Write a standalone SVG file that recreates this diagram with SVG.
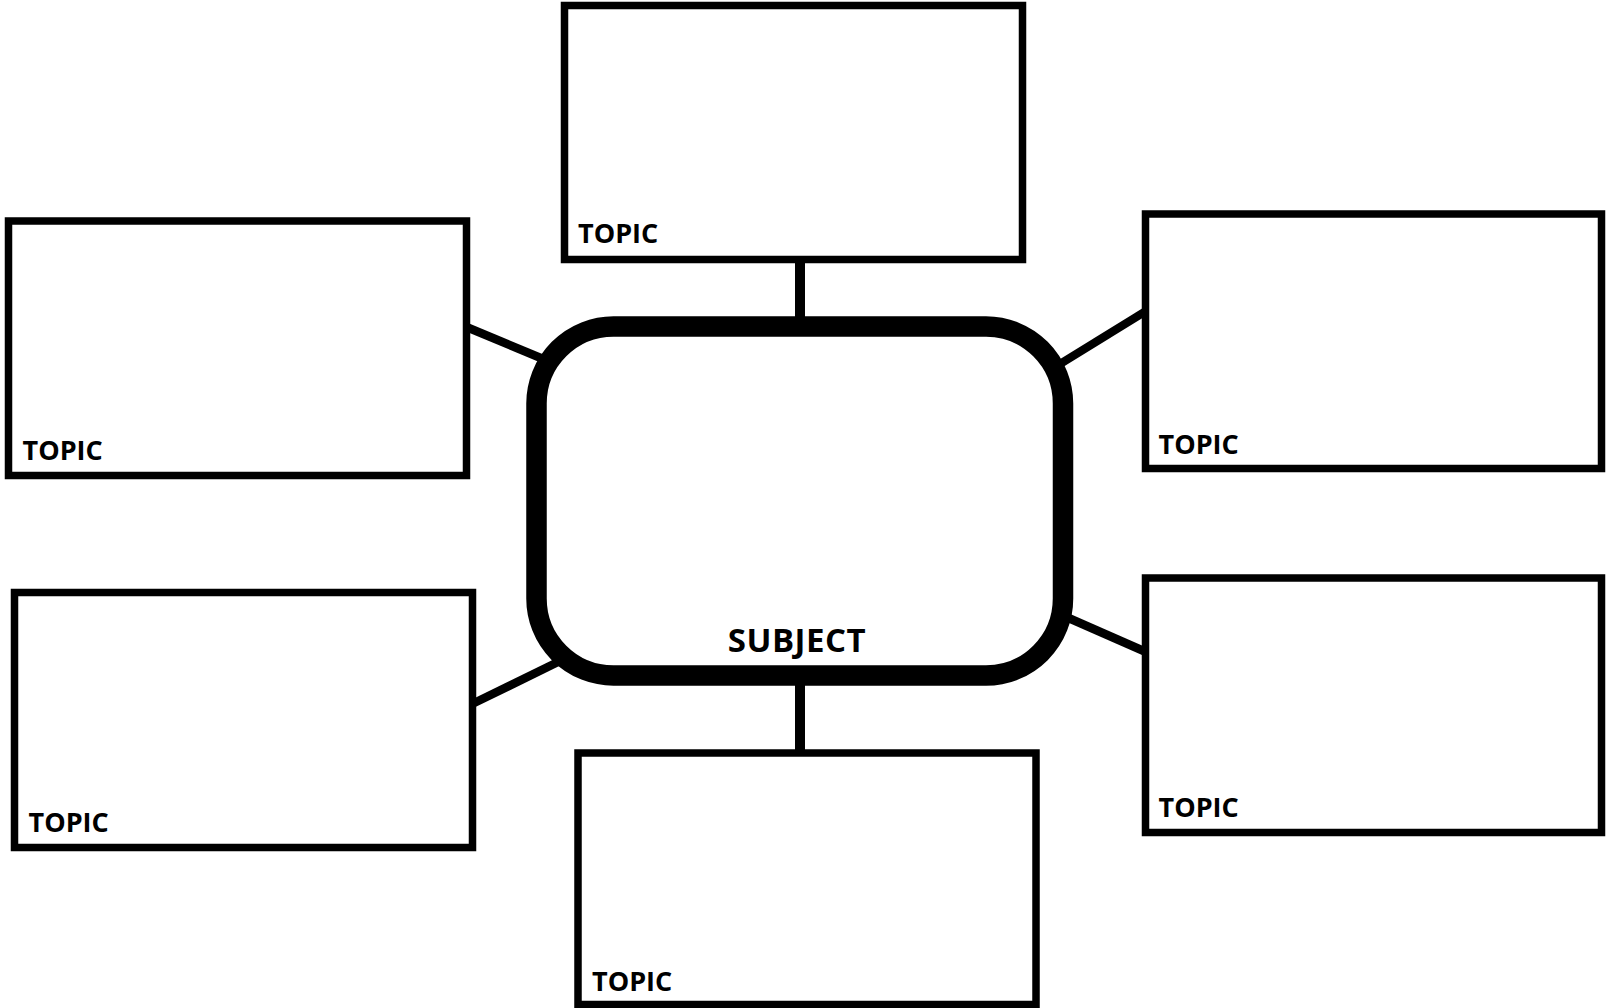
<svg xmlns="http://www.w3.org/2000/svg" width="1606" height="1008" viewBox="0 0 1606 1008">
<style>
.box{fill:#fff;stroke:#000;stroke-width:7.5}
.hub{fill:#fff;stroke:#000;stroke-width:20.5}
.lbl{font-family:"Open Sans","Liberation Sans",sans-serif;font-weight:700;font-size:27px;fill:#000}
.sub{font-family:"Open Sans","Liberation Sans",sans-serif;font-weight:700;font-size:33px;fill:#000;letter-spacing:0.5px}
.c{stroke:#000;fill:none}
</style>
<rect width="1606" height="1008" fill="#fff"/>
<g id="connectors">
<line class="c" x1="800" y1="258" x2="800" y2="330" stroke-width="10"/>
<line class="c" x1="800" y1="672" x2="800" y2="756" stroke-width="10"/>
<line class="c" x1="464" y1="326" x2="548" y2="361" stroke-width="8.5"/>
<line class="c" x1="1146" y1="311" x2="1060" y2="364" stroke-width="8.5"/>
<line class="c" x1="1064" y1="616" x2="1146" y2="652" stroke-width="8.5"/>
<line class="c" x1="470" y1="705" x2="562" y2="660" stroke-width="8.5"/>
</g>
<g id="subject">
<rect class="hub" x="536.5" y="326.5" width="526.5" height="349" rx="77" ry="77"/>
<text class="sub" x="797" y="652" text-anchor="middle">SUBJECT</text>
</g>
<g id="topic-top">
<rect class="box" x="564.5" y="5.5" width="458" height="254"/>
<text class="lbl" x="578" y="243">TOPIC</text>
</g>
<g id="topic-left-top">
<rect class="box" x="8.5" y="221" width="458" height="254.5"/>
<text class="lbl" x="22.5" y="460">TOPIC</text>
</g>
<g id="topic-right-top">
<rect class="box" x="1145.5" y="214" width="456" height="254.5"/>
<text class="lbl" x="1158.5" y="453.5">TOPIC</text>
</g>
<g id="topic-left-bottom">
<rect class="box" x="14.5" y="592.5" width="458" height="255"/>
<text class="lbl" x="28.5" y="831.5">TOPIC</text>
</g>
<g id="topic-right-bottom">
<rect class="box" x="1145.5" y="578" width="456" height="254.5"/>
<text class="lbl" x="1158.5" y="816.5">TOPIC</text>
</g>
<g id="topic-bottom">
<rect class="box" x="578" y="753" width="458" height="251.5"/>
<text class="lbl" x="592" y="990.5">TOPIC</text>
</g>
</svg>
